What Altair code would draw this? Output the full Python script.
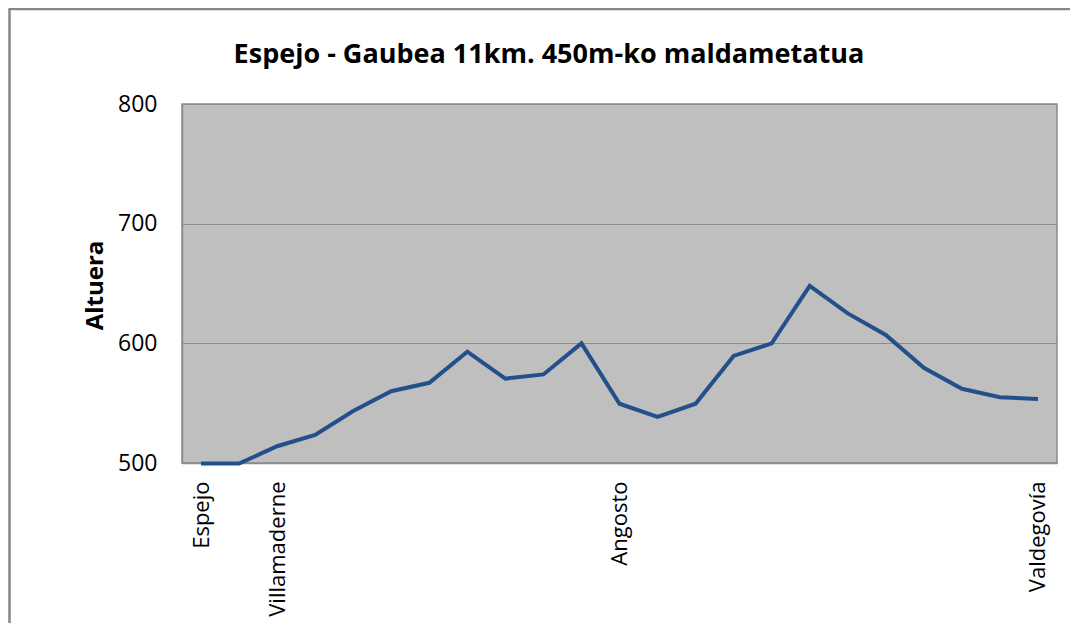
import json
import altair as alt
import pandas as pd

# --- data ---
punto = list(range(23))
altuera = [499.5, 499.5, 514, 523.5, 543.5, 560, 567, 593, 570.5, 574, 600,
           549.5, 538.5, 549.5, 589.5, 600, 648, 625, 607, 579.5, 562, 555, 553.5]
etiketak = ["Espejo", "", "Villamaderne", "", "", "", "", "", "", "", "",
            "Angosto", "", "", "", "", "", "", "", "", "", "", "Valdegovía"]
y_ticks = [500, 600, 700, 800]
izenburua = ["Espejo - Gaubea 11km. 450m-ko maldametatua"]

df = pd.DataFrame({"punto": punto, "altuera": altuera})

FONT = "Open Sans"
W, H = 875, 359
PL, PT, PR, PB = 174, 96, 13, 160

label_expr = json.dumps(etiketak, ensure_ascii=False) + "[datum.value]"

line = alt.Chart(df).mark_line(color="#23508A", strokeWidth=4).encode(
    x=alt.X("punto:O",
            axis=alt.Axis(labelExpr=label_expr, labelAngle=-90, ticks=False, tickSize=0,
                          labelPadding=18, labelFont=FONT, labelFontSize=22,
                          labelColor="black", domainColor="#8C8C8C", domainWidth=1.5,
                          grid=False, title=None, labelOverlap=False),
            scale=alt.Scale(type="point", padding=0.5)),
    y=alt.Y("altuera:Q",
            scale=alt.Scale(domain=[500, 800], nice=False, zero=False),
            axis=alt.Axis(values=y_ticks, ticks=False, tickSize=0, labelPadding=25,
                          labelFont=FONT, labelFontSize=23, labelColor="black",
                          domainColor="#8C8C8C", domainWidth=1.5,
                          gridColor="#8C8C8C", gridWidth=1.2,
                          title="Altuera", titleFont=FONT, titleFontSize=24,
                          titleFontWeight="bold", titleColor="black", titleAngle=-90,
                          titleAlign="center", titleBaseline="alphabetic",
                          titleX=-80, titleY=181)),
)

title_df = pd.DataFrame({"izenburua": izenburua})
title = alt.Chart(title_df).mark_text(
    font=FONT, fontSize=27, fontWeight="bold", color="black",
    align="center", baseline="alphabetic"
).encode(text="izenburua:N", x=alt.value(367), y=alt.value(-41))

frame_df = pd.DataFrame({"k": [0]})
left_border = alt.Chart(frame_df).mark_rule(color="#868686", strokeWidth=2.5).encode(
    x=alt.value(-172.5), y=alt.value(-95), y2=alt.value(H + PB)
)
top_border = alt.Chart(frame_df).mark_rule(color="#868686", strokeWidth=2.5).encode(
    x=alt.value(-173.5), x2=alt.value(W + PR), y=alt.value(-95)
)

chart = alt.layer(left_border, top_border, title, line).properties(
    width=W, height=H,
    autosize=alt.AutoSizeParams(type="none"),
    padding={"left": PL, "top": PT, "right": PR, "bottom": PB},
    background="white",
).configure_view(fill="#BFBFBF", stroke="#8C8C8C", strokeWidth=1.5)

chart.save("out.html", embed_options={"renderer": "svg", "actions": False})
